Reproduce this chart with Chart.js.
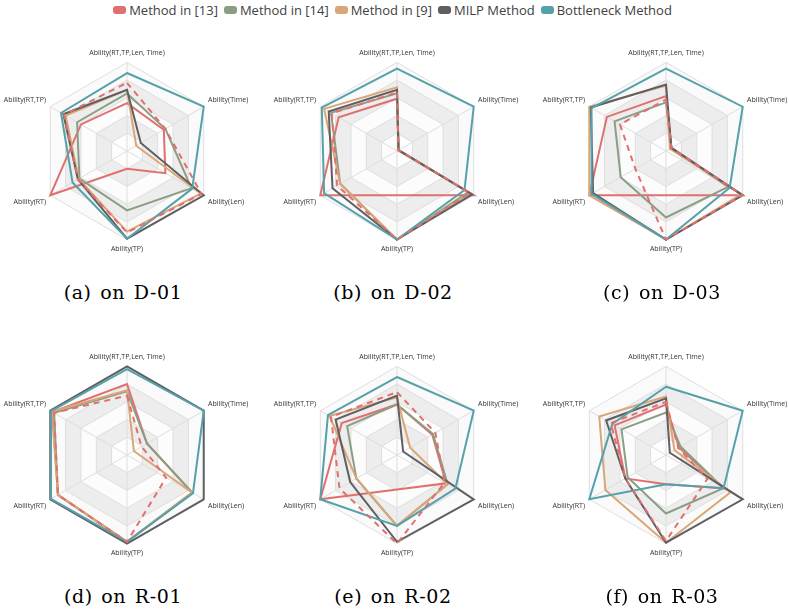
<!DOCTYPE html>
<html>
<head>
<meta charset="utf-8">
<script src="https://cdn.jsdelivr.net/npm/chart.js@4.4.0/dist/chart.umd.min.js"></script>
<style>
  body {
    margin: 0;
    width: 789px;
    height: 614px;
    position: relative;
    overflow: hidden;
    background: #ffffff;
    font-family: 'Open Sans', sans-serif;
  }
  #legend {
    position: absolute;
    top: 1px;
    left: 0;
    width: 785px;
    display: flex;
    justify-content: center;
    font-size: 13px;
    color: #404040;
    line-height: 18px;
  }
  .item { display: flex; align-items: center; margin: 0 3px; }
  .box { width: 13px; height: 8px; border-radius: 3px; margin-right: 3px; }
  .panel { position: absolute; }
  .caption {
    position: absolute;
    width: 240px;
    text-align: center;
    font-family: 'DejaVu Serif', serif;
    font-size: 19px;
    letter-spacing: 0.6px;
    word-spacing: 2px;
    color: #000;
  }
</style>
</head>
<body>
<div id="legend"></div>

<script>
// 六个维度（雷达图从正上方开始顺时针）
const axisLabels = ['Ability(RT,TP,Len, Time)', 'Ability(Time)', 'Ability(Len)', 'Ability(TP)', 'Ability(RT)', 'Ability(RT,TP)'];
const panelCaptions = ['(a) on D-01', '(b) on D-02', '(c) on D-03', '(d) on R-01', '(e) on R-02', '(f) on R-03'];

// 每个方法在六个数据集上的得分（顺序同 panelCaptions）
const method13 = [
  [54, 48, 50, 20, 100, 60],
  [59, 2, 100, 50, 100, 76],
  [62, 7, 100, 50, 100, 77],
  [80, 26, 85, 98, 90, 97],
  [57, 46, 64, 39, 100, 72],
  [57, 17, 75, 33, 53, 67]
];
const method13Dashed = [
  [77, 50, 97, 92, 64, 82],
  [66, 2, 95, 100, 78, 85],
  [58, 7, 100, 100, 40, 60],
  [67, 19, 51, 98, 90, 95],
  [71, 50, 62, 100, 75, 86],
  [60, 16, 54, 97, 53, 72]
];
const method14 = [
  [65, 50, 84, 67, 62, 65],
  [65, 2, 93, 100, 74, 86],
  [55, 7, 81, 75, 59, 67],
  [72, 26, 85, 98, 90, 95],
  [57, 47, 66, 80, 53, 65],
  [48, 19, 75, 66, 50, 58]
];
const method9 = [
  [69, 12, 96, 91, 63, 80],
  [72, 2, 95, 100, 74, 95],
  [74, 5, 98, 100, 100, 100],
  [73, 9, 85, 98, 90, 98],
  [65, 17, 66, 80, 53, 88],
  [66, 11, 84, 99, 79, 87]
];
const milpMethod = [
  [69, 18, 100, 99, 64, 83],
  [69, 2, 98, 100, 84, 89],
  [75, 7, 100, 100, 95, 98],
  [100, 100, 100, 100, 100, 100],
  [67, 8, 100, 98, 61, 80],
  [64, 5, 100, 99, 53, 78]
];
const bottleneckMethod = [
  [88, 100, 85, 99, 71, 86],
  [93, 100, 88, 100, 95, 98],
  [93, 100, 83, 100, 97, 97],
  [97, 100, 86, 98, 99, 99],
  [88, 100, 76, 80, 100, 90],
  [77, 100, 75, 33, 100, 70]
];

const seriesNames = ['Method in [13]', 'Method in [14]', 'Method in [9]', 'MILP Method', 'Bottleneck Method'];
const seriesColors = ['#e0706f', '#8b9e85', '#dba676', '#5f5f63', '#56a1a9'];

// 雷达图的刻度等级（用于交替底色）
const ringLevels = [100, 80, 60, 40, 20];
const ringColors = ['#fafafa', '#ededed', '#fcfcfc', '#ededed', '#fdfdfd'];

// 面板中心位置
const panelCenterX = [127, 397, 666];
const panelCenterY = [152, 456];
const captionY = [281, 585];

// 绘制交替的灰白环形底色
const ringPlugin = {
  id: 'rings',
  beforeDraw(chart) {
    const scale = chart.scales.r;
    const ctx = chart.ctx;
    const n = chart.data.labels.length;
    ctx.save();
    ringLevels.forEach((level, k) => {
      ctx.beginPath();
      for (let i = 0; i < n; i++) {
        const p = scale.getPointPositionForValue(i, level);
        if (i === 0) ctx.moveTo(p.x, p.y);
        else ctx.lineTo(p.x, p.y);
      }
      ctx.closePath();
      ctx.fillStyle = ringColors[k];
      ctx.fill();
    });
    ctx.restore();
  }
};

// 图例
const legendEl = document.getElementById('legend');
seriesNames.forEach((name, i) => {
  const item = document.createElement('div');
  item.className = 'item';
  item.innerHTML = `<span class="box" style="background:${seriesColors[i]}"></span><span>${name}</span>`;
  legendEl.appendChild(item);
});

function makeDataset(label, data, color, order, dashed) {
  return {
    label: label,
    data: data,
    borderColor: color,
    backgroundColor: 'transparent',
    borderWidth: 2,
    borderDash: dashed ? [6, 5] : [],
    pointRadius: 0,
    fill: false,
    order: order
  };
}

panelCaptions.forEach((caption, p) => {
  const col = p % 3;
  const row = Math.floor(p / 3);
  const width = 270, height = 204;

  const wrap = document.createElement('div');
  wrap.className = 'panel';
  wrap.style.left = (panelCenterX[col] - 135) + 'px';
  wrap.style.top = (panelCenterY[row] - 102) + 'px';
  const canvas = document.createElement('canvas');
  canvas.width = width;
  canvas.height = height;
  wrap.appendChild(canvas);
  document.body.appendChild(wrap);

  const cap = document.createElement('div');
  cap.className = 'caption';
  cap.textContent = caption;
  cap.style.left = (panelCenterX[col] - 4 - 120) + 'px';
  cap.style.top = captionY[row] + 'px';
  document.body.appendChild(cap);

  new Chart(canvas, {
    type: 'radar',
    data: {
      labels: axisLabels,
      datasets: [
        makeDataset(seriesNames[0], method13[p], seriesColors[0], 5, false),
        makeDataset(seriesNames[1], method14[p], seriesColors[1], 4, false),
        makeDataset(seriesNames[2], method9[p], seriesColors[2], 3, false),
        makeDataset(seriesNames[3], milpMethod[p], seriesColors[3], 2, false),
        makeDataset(seriesNames[4], bottleneckMethod[p], seriesColors[4], 1, false),
        makeDataset(seriesNames[0] + ' (dashed)', method13Dashed[p], seriesColors[0], 0, true)
      ]
    },
    options: {
      responsive: false,
      animation: false,
      devicePixelRatio: 1,
      plugins: {
        legend: { display: false },
        tooltip: { enabled: false }
      },
      scales: {
        r: {
          min: 0,
          max: 100,
          ticks: { display: false, stepSize: 20 },
          grid: { color: '#dedede', lineWidth: 1 },
          angleLines: { color: '#dedede', lineWidth: 1 },
          pointLabels: {
            color: '#333333',
            padding: 5,
            font: { family: 'Open Sans', size: 7 }
          }
        }
      }
    },
    plugins: [ringPlugin]
  });
});
</script>
</body>
</html>
